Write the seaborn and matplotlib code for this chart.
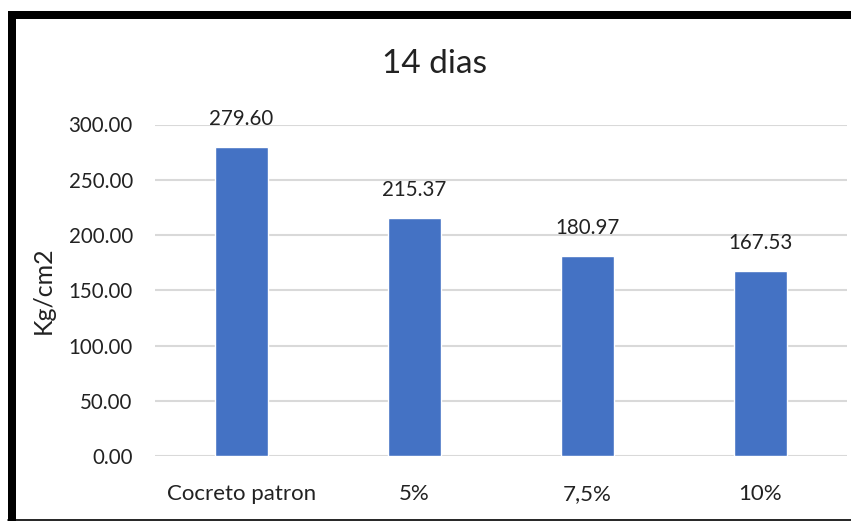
import matplotlib
matplotlib.use("Agg")
import matplotlib.pyplot as plt
import seaborn as sns
import pandas as pd
from matplotlib.patches import Rectangle
from matplotlib.lines import Line2D

categories = ["Cocreto patron", "5%", "7,5%", "10%"]
values = [279.60, 215.37, 180.97, 167.53]
value_labels = ["279.60", "215.37", "180.97", "167.53"]
yticks = [0, 50, 100, 150, 200, 250, 300]
ytick_labels = ["0.00", "50.00", "100.00", "150.00", "200.00", "250.00", "300.00"]
title = "14 dias"
ylabel = "Kg/cm2"

sns.set_theme(style="white")
plt.rcParams["font.family"] = ["Lato", "DejaVu Sans"]

W, H = 851, 521
fig = plt.figure(figsize=(W / 100, H / 100), dpi=100)
fig.patch.set_facecolor("white")

ax = fig.add_axes([155 / W, (H - 456) / H, (847 - 155) / W, (456 - 124.5) / H])

df = pd.DataFrame({"cat": categories, "val": values})
sns.barplot(data=df, x="cat", y="val", color="#4472C4", saturation=1,
            width=0.31, ax=ax, zorder=3)

ax.set_xlim(-0.5, len(categories) - 0.5)
ax.set_ylim(0, 300)
ax.set_yticks(yticks)
ax.set_yticklabels(ytick_labels)
ax.yaxis.grid(True, color="#D9D9D9", linewidth=1.5, zorder=0)
ax.set_axisbelow(True)
for s in ax.spines.values():
    s.set_visible(False)
ax.tick_params(axis="y", length=0, labelsize=14.8, colors="#222222", pad=16)
ax.tick_params(axis="x", length=0, labelsize=16, colors="#222222", pad=20)
ax.set_xlabel("")
ax.set_ylabel(ylabel, fontsize=18, color="#222222", labelpad=10)

for i, (v, lab) in enumerate(zip(values, value_labels)):
    ax.annotate(lab, xy=(i, v), xytext=(0, 20), textcoords="offset points",
                ha="center", va="center", fontsize=14.8, color="#222222",
                annotation_clip=False)

fig.text(435 / W, 1 - 64 / H, title, ha="center", va="center",
         fontsize=24, color="#222222")

# black frame (left, top, bottom)
fig.add_artist(Rectangle((8 / W, 0), 8 / W, (H - 11) / H, transform=fig.transFigure,
                         facecolor="black", edgecolor="none"))
fig.add_artist(Rectangle((8 / W, (H - 19) / H), (W - 8) / W, 8 / H, transform=fig.transFigure,
                         facecolor="black", edgecolor="none"))
fig.add_artist(Line2D([8 / W, 1], [1.5 / H, 1.5 / H], transform=fig.transFigure,
                      color="black", linewidth=1.2))

fig.savefig("out.png", dpi=100)
